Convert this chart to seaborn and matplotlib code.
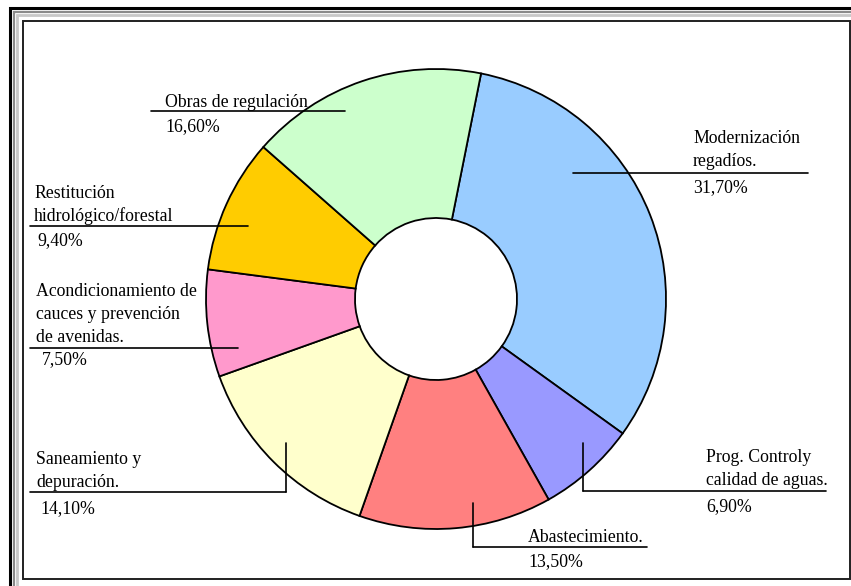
import matplotlib
matplotlib.use("Agg")
import matplotlib.pyplot as plt
from matplotlib.patches import Rectangle
import seaborn as sns

# Investment shares by programme (percent)
categories = [
    "Modernización regadíos.",
    "Prog. Controly calidad de aguas.",
    "Abastecimiento.",
    "Saneamiento y depuración.",
    "Acondicionamiento de cauces y prevención de avenidas.",
    "Restitución hidrológico/forestal",
    "Obras de regulación",
]
shares = [31.70, 6.90, 13.50, 14.10, 7.50, 9.40, 16.60]
colors = ["#99CCFF", "#9999FF", "#FF8080", "#FFFFCC", "#FF99CC", "#FFCC00", "#CCFFCC"]

# Label text lines as they are wrapped in the chart
label_lines = [
    ["Modernización", "regadíos."],
    ["Prog. Controly", "calidad de aguas."],
    ["Abastecimiento."],
    ["Saneamiento y", "depuración."],
    ["Acondicionamiento de", "cauces y prevención", "de avenidas."],
    ["Restitución", "hidrológico/forestal"],
    ["Obras de regulación"],
]

sns.set_theme(style="white")
plt.rcParams["font.family"] = ["Liberation Serif", "DejaVu Serif"]

W, H = 851, 586
fig = plt.figure(figsize=(W / 100, H / 100), dpi=100)
ax = fig.add_axes([0, 0, 1, 1])


def Y(y):
    # top-down pixel row -> axis coordinate
    return H - y


# Doughnut
cx, cy, r_out, r_in = 436, 299, 230, 81
ax.pie(shares, colors=colors, startangle=78.7, counterclock=False,
       center=(cx, Y(cy)), radius=r_out, frame=True,
       wedgeprops=dict(width=r_out - r_in, edgecolor="black", linewidth=1.3))
ax.set_xlim(0, W)
ax.set_ylim(0, H)
ax.set_aspect("equal")
ax.axis("off")

# Frame: outer black/grey border and thin inner border
ax.add_patch(Rectangle((10, Y(H + 20)), W + 20, H + 20 - 8, fill=False,
                       edgecolor="black", lw=2.2, zorder=0))
ax.add_patch(Rectangle((14, Y(H + 20)), W + 20, H + 20 - 12, fill=False,
                       edgecolor="#8a8a8a", lw=1.6, zorder=0))
ax.add_patch(Rectangle((17, Y(H + 20)), W + 20, H + 20 - 15, fill=False,
                       edgecolor="#c8c8c8", lw=2.0, zorder=0))
ax.add_patch(Rectangle((22.5, Y(579)), 827, 579 - 20.5, fill=False,
                       edgecolor="#202020", lw=1.4, zorder=0))

fs = 12.8
line_gap = 23

# Label layout:
# (text x, underline y, gap text->line, percent x, gap line->percent baseline,
#  underline x0, x1, leader top y or None, leader x)
layout = [
    (693, 173, 7, 693, 19, 573, 808, None, None),
    (706, 491, 6, 706, 20, 583, 826, 443, 583),
    (528, 547, 5, 528, 19, 473, 647, 503, 473),
    (36, 492, 5, 40, 21, 30, 286, 443, 286),
    (36, 348, 6, 42, 16, 30, 238, None, None),
    (34, 226, 5, 37, 19, 30, 248, None, None),
    (165, 111, 4, 165, 20, 151, 345, None, None),
]

for lines, val, (tx, uy, g1, px, g2, x0, x1, ly, lx) in zip(label_lines, shares, layout):
    n = len(lines)
    for i, s in enumerate(lines):
        base = uy - g1 - (n - 1 - i) * line_gap
        ax.text(tx, Y(base), s, fontsize=fs, ha="left", va="baseline",
                color="black", zorder=5)
    ax.text(px, Y(uy + g2), f"{val:.2f}%".replace(".", ","), fontsize=fs,
            ha="left", va="baseline", color="black", zorder=5)
    ax.plot([x0, x1], [Y(uy), Y(uy)], color="black", lw=1.2, zorder=6)
    if ly is not None:
        ax.plot([lx, lx], [Y(ly), Y(uy)], color="black", lw=1.2, zorder=6)

fig.savefig("out.png", dpi=100, facecolor="white")
